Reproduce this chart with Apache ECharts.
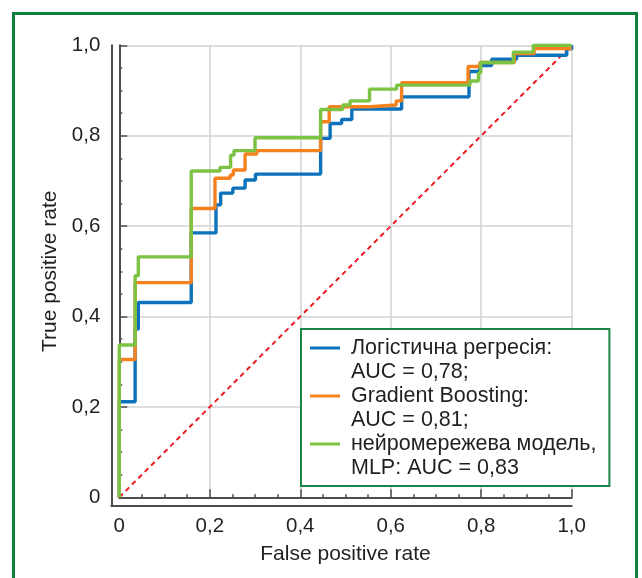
<!DOCTYPE html>
<html>
<head>
<meta charset="utf-8">
<script src="https://cdn.jsdelivr.net/npm/echarts@6/dist/echarts.min.js"></script>
<style>
  html, body { margin: 0; padding: 0; background: #ffffff; }
  #chart { width: 642px; height: 578px; }
</style>
</head>
<body>
<div id="chart"></div>
<script>
// ROC curves: each point is (false positive rate, true positive rate) at the top of a vertical rise
const logitFpr = [0, 0, 0.035, 0.042, 0.159, 0.2137, 0.224, 0.251, 0.278, 0.301, 0.445, 0.466, 0.4915, 0.514, 0.624, 0.773, 0.797, 0.823, 0.878, 0.989, 1.0];
const logitTpr = [0, 0.2115, 0.372, 0.431, 0.585, 0.647, 0.673, 0.684, 0.702, 0.715, 0.794, 0.827, 0.836, 0.859, 0.886, 0.942, 0.955, 0.969, 0.978, 0.992, 1.0];

const gbFpr = [0, 0, 0.035, 0.159, 0.2115, 0.245, 0.252, 0.278, 0.304, 0.445, 0.464, 0.554, 0.612, 0.624, 0.771, 0.797, 0.873, 0.917, 1.0];
const gbTpr = [0, 0.305, 0.475, 0.639, 0.706, 0.713, 0.724, 0.7595, 0.767, 0.831, 0.864, 0.868, 0.877, 0.917, 0.953, 0.962, 0.982, 0.993, 0.993];

const mlpFpr = [0, 0, 0.035, 0.042, 0.159, 0.2226, 0.246, 0.2535, 0.30, 0.445, 0.494, 0.51, 0.553, 0.613, 0.775, 0.794, 0.799, 0.871, 0.915, 1.0];
const mlpTpr = [0, 0.337, 0.49, 0.532, 0.722, 0.730, 0.757, 0.767, 0.7956, 0.858, 0.868, 0.877, 0.903, 0.912, 0.921, 0.939, 0.962, 0.985, 1.0, 1.0];

// chance diagonal
const chanceFpr = [0, 1];
const chanceTpr = [0, 1];

const seriesNames = [
  'Логістична регресія:\nAUC = 0,78;',
  'Gradient Boosting:\nAUC = 0,81;',
  'нейромережева модель,\nMLP: AUC = 0,83'
];
const seriesColors = ['#0b72bb', '#f5821f', '#7cc243'];

const xTickLabels = ['0', '0,2', '0,4', '0,6', '0,8', '1,0'];
const yTickLabels = ['0', '0,2', '0,4', '0,6', '0,8', '1,0'];
const xTitle = 'False positive rate';
const yTitle = 'True positive rate';

function zip(xs, ys) { return xs.map((x, i) => [x, ys[i]]); }

const FONT = "'Liberation Sans', Arial, Helvetica, sans-serif";
const AXIS_COLOR = '#4d4d4d';
const TEXT_COLOR = '#231f20';
const FRAME_GREEN = '#0e7f3e';

function mainAxis(labels, isX) {
  return {
    type: 'value',
    gridIndex: 0,
    min: 0,
    max: 1,
    interval: 0.2,
    offset: 8,
    name: isX ? xTitle : yTitle,
    nameLocation: 'middle',
    nameGap: isX ? 38 : 49,
    nameTextStyle: { fontFamily: FONT, fontSize: 21, color: TEXT_COLOR },
    axisLine: { show: true, lineStyle: { color: AXIS_COLOR, width: 2 } },
    axisTick: { show: true, inside: true, length: 8, lineStyle: { color: AXIS_COLOR, width: 1.5 } },
    minorTick: { show: true, splitNumber: 4, length: 3, lineStyle: { color: AXIS_COLOR, width: 1.5 } },
    splitLine: { show: true, lineStyle: { color: '#d2d2d2', width: 1.5 } },
    axisLabel: {
      margin: isX ? 11 : 11,
      fontFamily: FONT,
      fontSize: 20.5,
      color: TEXT_COLOR,
      formatter: v => labels[Math.round(v / 0.2)]
    }
  };
}

function frameAxis() {
  return {
    type: 'value',
    gridIndex: 1,
    min: 0,
    max: 1,
    axisLine: { show: true, lineStyle: { color: AXIS_COLOR, width: 2 } },
    axisTick: { show: false },
    axisLabel: { show: false },
    splitLine: { show: false }
  };
}

// legend swatch: a short bar level with the first text line of each two-line entry
const swatchIcon = 'path://M0,0L36,0M0,10.5L30,10.5L30,13.5L0,13.5ZM0,48L36,48';

const chart = echarts.init(document.getElementById('chart'), null, { renderer: 'canvas' });
chart.setOption({
  animation: false,
  backgroundColor: '#ffffff',
  grid: [
    { left: 119.3, right: 70.3, top: 45.3, bottom: 80.7, containLabel: false },
    { left: 111.3, right: 70.3, top: 45.3, bottom: 72.5, containLabel: false }
  ],
  xAxis: [mainAxis(xTickLabels, true), frameAxis()],
  yAxis: [mainAxis(yTickLabels, false), frameAxis()],
  legend: {
    data: seriesNames,
    orient: 'vertical',
    left: 301,
    top: 329,
    padding: [7, 13, 6, 9],
    itemGap: 0,
    itemWidth: 36,
    itemHeight: 48,
    icon: swatchIcon,
    itemStyle: { borderWidth: 0 },
    backgroundColor: '#ffffff',
    borderColor: '#1b8447',
    borderWidth: 2,
    textStyle: { fontFamily: FONT, fontSize: 21.5, lineHeight: 24, color: TEXT_COLOR },
    selectedMode: false
  },
  graphic: [{
    type: 'rect',
    shape: { x: 13.5, y: 13.5, width: 623, height: 620 },
    style: { fill: 'none', stroke: FRAME_GREEN, lineWidth: 3 },
    silent: true,
    z: 100
  }],
  series: [
    {
      name: 'chance',
      type: 'line',
      data: zip(chanceFpr, chanceTpr),
      showSymbol: false,
      lineStyle: { color: '#ec1c24', width: 2, type: [5, 4] },
      z: 1
    },
    {
      name: seriesNames[0],
      type: 'line',
      step: 'end',
      data: zip(logitFpr, logitTpr),
      showSymbol: false,
      color: seriesColors[0],
      lineStyle: { color: seriesColors[0], width: 3.4 },
      z: 2
    },
    {
      name: seriesNames[1],
      type: 'line',
      step: 'end',
      data: zip(gbFpr, gbTpr),
      showSymbol: false,
      color: seriesColors[1],
      lineStyle: { color: seriesColors[1], width: 3.4 },
      z: 3
    },
    {
      name: seriesNames[2],
      type: 'line',
      step: 'end',
      data: zip(mlpFpr, mlpTpr),
      showSymbol: false,
      color: seriesColors[2],
      lineStyle: { color: seriesColors[2], width: 3.4 },
      z: 4
    }
  ]
});
</script>
</body>
</html>
